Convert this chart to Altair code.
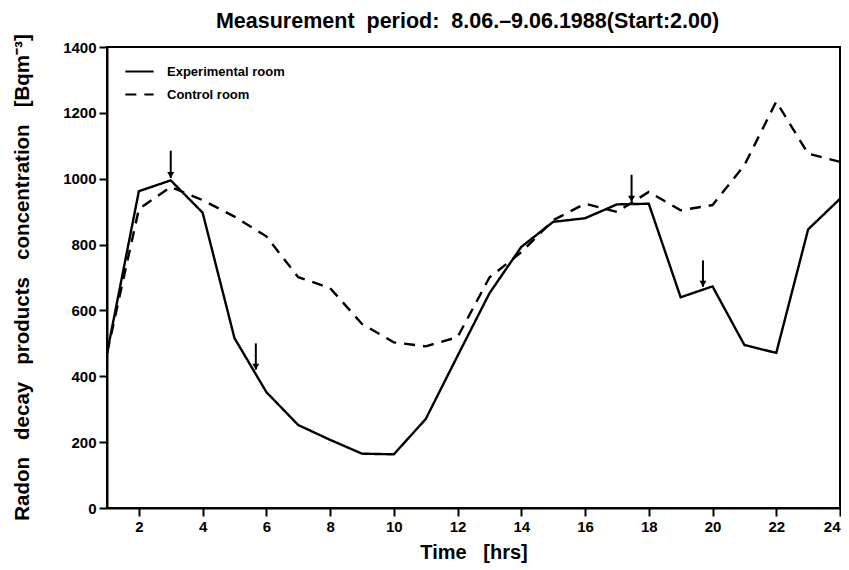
import altair as alt
import pandas as pd

hours = list(range(1, 25))
experimental = [470, 962, 995, 897, 516, 352, 252, 207, 165, 163, 270, 462,
                652, 793, 869, 880, 922, 924, 640, 673, 495, 471, 846, 939]
control = [470, 908, 975, 935, 885, 825, 701, 668, 559, 503, 491, 519,
           700, 777, 874, 924, 899, 960, 904, 920, 1041, 1234, 1076, 1051]
series_names = ["Experimental room", "Control room"]

arrow_hour = [3.0, 5.67, 17.46, 19.7]
arrow_top = [1085, 500, 1012, 752]
arrow_tip = [1002, 420, 930, 672]

x_ticks = list(range(2, 25, 2))
y_ticks = list(range(0, 1401, 200))

df = pd.DataFrame({
    "hour": hours * 2,
    "value": experimental + control,
    "series": [series_names[0]] * len(hours) + [series_names[1]] * len(hours),
})
arrows = pd.DataFrame({"hour": arrow_hour, "top": arrow_top, "tip": arrow_tip})

FONT = "Liberation Sans"
S2 = "\u00a0 "  # wide word gap like the reference
S3 = "\u00a0\u00a0 "

x_enc = alt.X("hour:Q",
              scale=alt.Scale(domain=[1, 24], nice=False, zero=False),
              axis=alt.Axis(values=x_ticks, format="d",
                            title="Time" + S3 + "[hrs]", titlePadding=8,
                            titleFontSize=20))
y_enc = alt.Y("value:Q",
              scale=alt.Scale(domain=[0, 1400], nice=False),
              axis=alt.Axis(values=y_ticks, format="d",
                            title=S3.join(["Radon", "decay", "products",
                                           "concentration", "[Bqm⁻³]"]),
                            titleX=-75, titleY=230, titleAlign="center",
                            titleFontSize=20.5))

lines = alt.Chart(df).mark_line(color="black", strokeWidth=2.4).encode(
    x=x_enc,
    y=y_enc,
    strokeDash=alt.StrokeDash(
        "series:N",
        scale=alt.Scale(domain=series_names, range=[[1, 0], [11, 8]]),
        legend=alt.Legend(title=None, orient="none", legendX=17, legendY=9,
                          symbolType="stroke", symbolStrokeWidth=2,
                          symbolSize=800, symbolStrokeColor="black",
                          labelFont=FONT, labelFontSize=13, labelFontWeight="bold",
                          labelColor="black", rowPadding=-4, labelOffset=12),
    ),
    detail="series:N",
    order="hour:Q",
)

shafts = alt.Chart(arrows).mark_rule(color="black", strokeWidth=2).encode(
    x="hour:Q", y="top:Q", y2="tip:Q"
)
heads = alt.Chart(arrows).mark_point(shape="triangle-down", filled=True,
                                     color="black", size=50, opacity=1,
                                     yOffset=-3).encode(
    x="hour:Q", y="tip:Q"
)

chart = alt.layer(lines, shafts, heads).properties(
    width=733,
    height=461,
    autosize=alt.AutoSizeParams(type="none"),
    padding={"left": 99, "top": 39, "right": 1, "bottom": 55},
    title=alt.Title(S2.join(["Measurement", "period:", "8.06.–9.06.1988(Start:2.00)"]),
                    font=FONT, fontSize=21.5, fontWeight="bold", color="black",
                    anchor="middle", offset=10, dx=-6, dy=9),
).configure_view(
    stroke="black", strokeWidth=2
).configure_axis(
    grid=False,
    domainColor="black", domainWidth=2,
    tickColor="black", tickWidth=2, tickSize=8,
    labelFont=FONT, labelFontSize=15, labelFontWeight="bold", labelColor="black",
    labelPadding=3,
    titleFont=FONT, titleFontSize=18, titleFontWeight="bold", titleColor="black",
)

chart.save("out.html", embed_options={"renderer": "svg", "actions": False})
